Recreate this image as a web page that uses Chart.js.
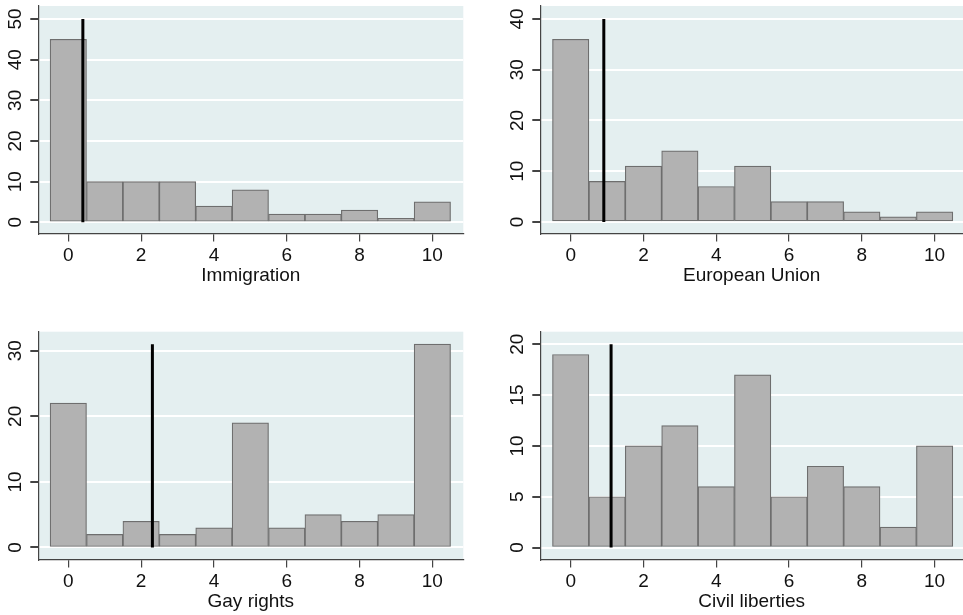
<!DOCTYPE html>
<html>
<head>
<meta charset="utf-8">
<script src="https://cdn.jsdelivr.net/npm/chart.js@4.4.0/dist/chart.umd.min.js"></script>
<style>
  html, body { margin: 0; padding: 0; background: #fff; }
  #wrap { position: relative; width: 963px; height: 615px; overflow: hidden; }
  .panel { position: absolute; }
</style>
</head>
<body>
<div id="wrap">
  <div class="panel" style="left:0;top:0;width:481px;height:300px"><canvas id="c1"></canvas></div>
  <div class="panel" style="left:481px;top:0;width:482px;height:300px"><canvas id="c2"></canvas></div>
  <div class="panel" style="left:0;top:300px;width:481px;height:315px"><canvas id="c3"></canvas></div>
  <div class="panel" style="left:481px;top:300px;width:482px;height:315px"><canvas id="c4"></canvas></div>
</div>
<script>
// scores 0..10, one bar per score
const bins = [0, 1, 2, 3, 4, 5, 6, 7, 8, 9, 10];
const immigration = [45, 10, 10, 10, 4, 8, 2, 2, 3, 1, 5];
const europeanUnion = [36, 8, 11, 14, 7, 11, 4, 4, 2, 1, 2];
const gayRights = [22, 2, 4, 2, 3, 19, 3, 5, 4, 5, 31];
const civilLiberties = [19, 5, 10, 12, 6, 17, 5, 8, 6, 2, 10];

// black reference line: x position and height
const meanLines = [0.4, 0.91, 2.31, 1.11];
const meanTops = [50, 40, 31, 20];

const xTicks = [0, 2, 4, 6, 8, 10];
const yTicks1 = [0, 10, 20, 30, 40, 50];
const yTicks2 = [0, 10, 20, 30, 40];
const yTicks3 = [0, 10, 20, 30];
const yTicks4 = [0, 5, 10, 15, 20];
const titles = ['Immigration', 'European Union', 'Gay rights', 'Civil liberties'];

Chart.defaults.font.family = "'Liberation Sans', Arial, sans-serif";
Chart.defaults.font.size = 19;
Chart.defaults.color = '#111';

const plotBg = {
    id: 'plotBg',
    beforeDraw(chart) {
        const a = chart.chartArea;
        const ctx = chart.ctx;
        ctx.save();
        ctx.fillStyle = '#e4eff0';
        ctx.fillRect(a.left, a.top, a.right - a.left, a.bottom - a.top);
        ctx.restore();
    }
};

// no extra room for overhanging tick labels, the panel sizes are fixed
function noPad(s) {
    s.paddingTop = 0;
    s.paddingBottom = 0;
    s.paddingLeft = 0;
    s.paddingRight = 0;
}

function makeHist(id, counts, mean, meanTop, yTicks, title, lay) {
    const ctx = document.getElementById(id).getContext('2d');
    return new Chart(ctx, {
        type: 'bar',
        data: {
            datasets: [{
                type: 'line',
                data: [{x: mean, y: 0}, {x: mean, y: meanTop}],
                borderColor: '#000',
                borderWidth: 3,
                pointRadius: 0,
                order: 0
            }, {
                type: 'bar',
                data: bins.map((b, i) => ({x: b, y: counts[i]})),
                backgroundColor: '#b2b2b2',
                borderColor: '#6e6e6e',
                borderWidth: 1.2,
                borderSkipped: false,
                barPercentage: 1,
                categoryPercentage: 1,
                order: 1
            }]
        },
        options: {
            responsive: true,
            maintainAspectRatio: false,
            animation: false,
            layout: {padding: {left: 0, top: lay.top, right: lay.right, bottom: 0}},
            plugins: {legend: {display: false}, tooltip: {enabled: false}},
            scales: {
                x: {
                    type: 'linear',
                    min: lay.xMin,
                    max: lay.xMax,
                    offset: false,
                    grid: {color: 'rgba(0,0,0,0)', tickColor: '#444', tickLength: 8, offset: false, lineWidth: 1.2},
                    border: {display: true, color: '#444', width: 1.2},
                    ticks: {padding: 3, maxRotation: 0},
                    afterBuildTicks: s => { s.ticks = xTicks.map(v => ({value: v})); },
                    afterFit: s => { s.height = lay.xH; noPad(s); },
                    title: {display: true, text: title, padding: {top: 0, bottom: lay.titlePad}}
                },
                y: {
                    min: lay.yMin,
                    max: lay.yMax,
                    bounds: 'data',
                    grid: {color: '#ffffff', lineWidth: 2, tickColor: '#444', tickLength: 8},
                    border: {display: true, color: '#444', width: 1.2},
                    ticks: {padding: 4, minRotation: 90, maxRotation: 90, crossAlign: 'center'},
                    afterBuildTicks: s => { s.ticks = yTicks.map(v => ({value: v})); },
                    afterFit: s => { s.width = lay.yW; noPad(s); }
                }
            }
        },
        plugins: [plotBg]
    });
}

makeHist('c1', immigration, meanLines[0], meanTops[0], yTicks1, titles[0],
    {top: 6, right: 17.7, xH: 66.5, yW: 38.3, titlePad: 12.6, xMin: -0.824, xMax: 10.85, yMin: -2.76, yMax: 53.2});
makeHist('c2', europeanUnion, meanLines[1], meanTops[1], yTicks2, titles[1],
    {top: 6, right: 0, xH: 66.5, yW: 59.3, titlePad: 12.6, xMin: -0.835, xMax: 10.78, yMin: -2.27, yMax: 42.56});
makeHist('c3', gayRights, meanLines[2], meanTops[2], yTicks3, titles[2],
    {top: 31.7, right: 17.7, xH: 55.5, yW: 38.3, titlePad: 1.6, xMin: -0.824, xMax: 10.85, yMin: -1.83, yMax: 32.9});
makeHist('c4', civilLiberties, meanLines[3], meanTops[3], yTicks4, titles[3],
    {top: 31.7, right: 0, xH: 55.5, yW: 59.3, titlePad: 1.6, xMin: -0.835, xMax: 10.78, yMin: -1.18, yMax: 21.24});
</script>
</body>
</html>
